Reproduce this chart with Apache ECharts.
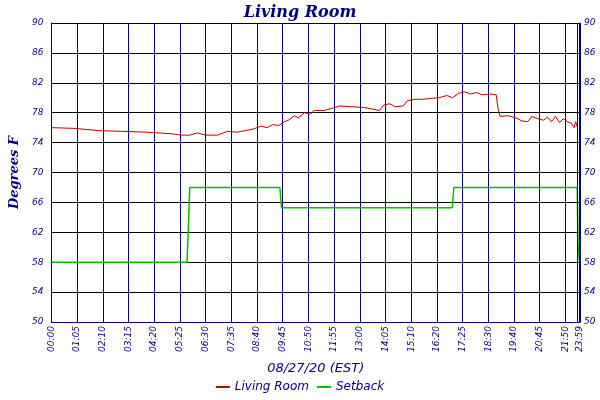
<!DOCTYPE html>
<html><head><meta charset="utf-8">
<script src="https://cdn.jsdelivr.net/npm/echarts@6/dist/echarts.min.js"></script>
<style>html,body{margin:0;background:#fff}#c{width:600px;height:400px}</style>
</head><body><div id="c"></div>
<script>
// x positions are "axis minutes": each 65-min grid step = one label
const tickValues = [0,65,130,195,260,325,390,455,520,585,650,715,780,845,910,975,1040,1105,1170,1235,1300,1330,1336];
const tickLabels = ["00:00","01:05","02:10","03:15","04:20","05:25","06:30","07:35","08:40","09:45","10:50","11:55","13:00","14:05","15:10","16:20","17:25","18:30","19:40","20:45","21:50","23:55","23:59"];
const livingT = [0,60,120,180,240,300,330,350,370,390,420,445,470,490,510,530,545,560,575,590,600,615,625,640,655,665,690,710,730,760,790,810,830,840,855,870,890,900,920,940,960,980,1000,1015,1030,1045,1060,1075,1090,1110,1125,1130,1135,1155,1175,1190,1205,1215,1230,1245,1255,1265,1275,1285,1295,1305,1315,1322,1326,1330];
const livingV = [76.0,75.9,75.6,75.5,75.4,75.2,75.0,75.0,75.3,75.0,75.0,75.5,75.4,75.6,75.8,76.2,76.0,76.4,76.3,76.8,77.0,77.6,77.3,78.0,77.8,78.3,78.3,78.6,78.9,78.8,78.7,78.5,78.3,79.0,79.2,78.8,78.9,79.6,79.8,79.8,79.9,80.0,80.3,80.0,80.6,80.8,80.5,80.7,80.4,80.5,80.4,78.5,77.5,77.6,77.3,76.9,76.8,77.5,77.2,77.0,77.4,76.8,77.5,76.7,77.2,76.8,76.6,76.0,76.8,76.1];
const setbackT = [0,343,345,350,578,582,1014,1018,1330,1332,1336];
const setbackV = [58,58,60.5,68,68,65.3,65.3,68,68,60.5,58];
const extraLines = [1330,1336];

const navy = '#000080';
const font = {fontFamily:'DejaVu Sans', fontStyle:'italic', color:navy, fontSize:9};
const chart = echarts.init(document.getElementById('c'));
chart.setOption({
  backgroundColor:'#fff', animation:false,
  title:{text:'Living Room', left:'center', top:0, textStyle:{fontFamily:'DejaVu Serif', fontStyle:'italic', fontWeight:'bold', color:navy, fontSize:16}},
  legend:{bottom:2, itemWidth:14, itemHeight:2, icon:'rect', textStyle:{fontFamily:'DejaVu Sans', fontStyle:'italic', color:navy, fontSize:12},
    data:['Living Room','Setback']},
  grid:{left:42, right:20, top:23, bottom:78},
  xAxis:{type:'value', min:0, max:1337, interval:65, name:'08/27/20 (EST)', nameLocation:'middle', nameGap:40,
    nameTextStyle:{fontFamily:'DejaVu Sans', fontStyle:'italic', color:navy, fontSize:13},
    axisLine:{lineStyle:{color:navy}},
    axisTick:{show:false},
    axisLabel:Object.assign({rotate:90, margin:4, hideOverlap:false, showMaxLabel:true, customValues:tickValues, formatter:v=>tickLabels[tickValues.indexOf(v)]}, font),
    splitLine:{show:true, lineStyle:{color:navy, width:1}}},
  yAxis:[
    {type:'value', min:50, max:90, interval:4, name:'Degrees F', nameLocation:'middle', nameGap:28,
     nameTextStyle:{fontFamily:'DejaVu Serif', fontStyle:'italic', fontWeight:'bold', color:navy, fontSize:13},
     axisLine:{show:true, lineStyle:{color:navy}}, axisTick:{show:false},
     axisLabel:Object.assign({margin:8}, font),
     splitLine:{lineStyle:{color:'#000'}}},
    {type:'value', min:50, max:90, interval:4, position:'right',
     axisLine:{show:true, lineStyle:{color:navy}}, axisTick:{show:false},
     axisLabel:Object.assign({margin:4}, font), splitLine:{show:false}}
  ],
  series:[
    {name:'Living Room', type:'line', showSymbol:false, color:'#c00000', lineStyle:{width:1},
     data:livingT.map((t,i)=>[t,livingV[i]]),
     markLine:{silent:true, symbol:'none', label:{show:false}, lineStyle:{color:navy, type:'solid', width:1},
       data:extraLines.map(x=>({xAxis:x}))}},
    {name:'Setback', type:'line', showSymbol:false, color:'#00c000', lineStyle:{width:1.5},
     data:setbackT.map((t,i)=>[t,setbackV[i]])}
  ]
});
</script></body></html>
